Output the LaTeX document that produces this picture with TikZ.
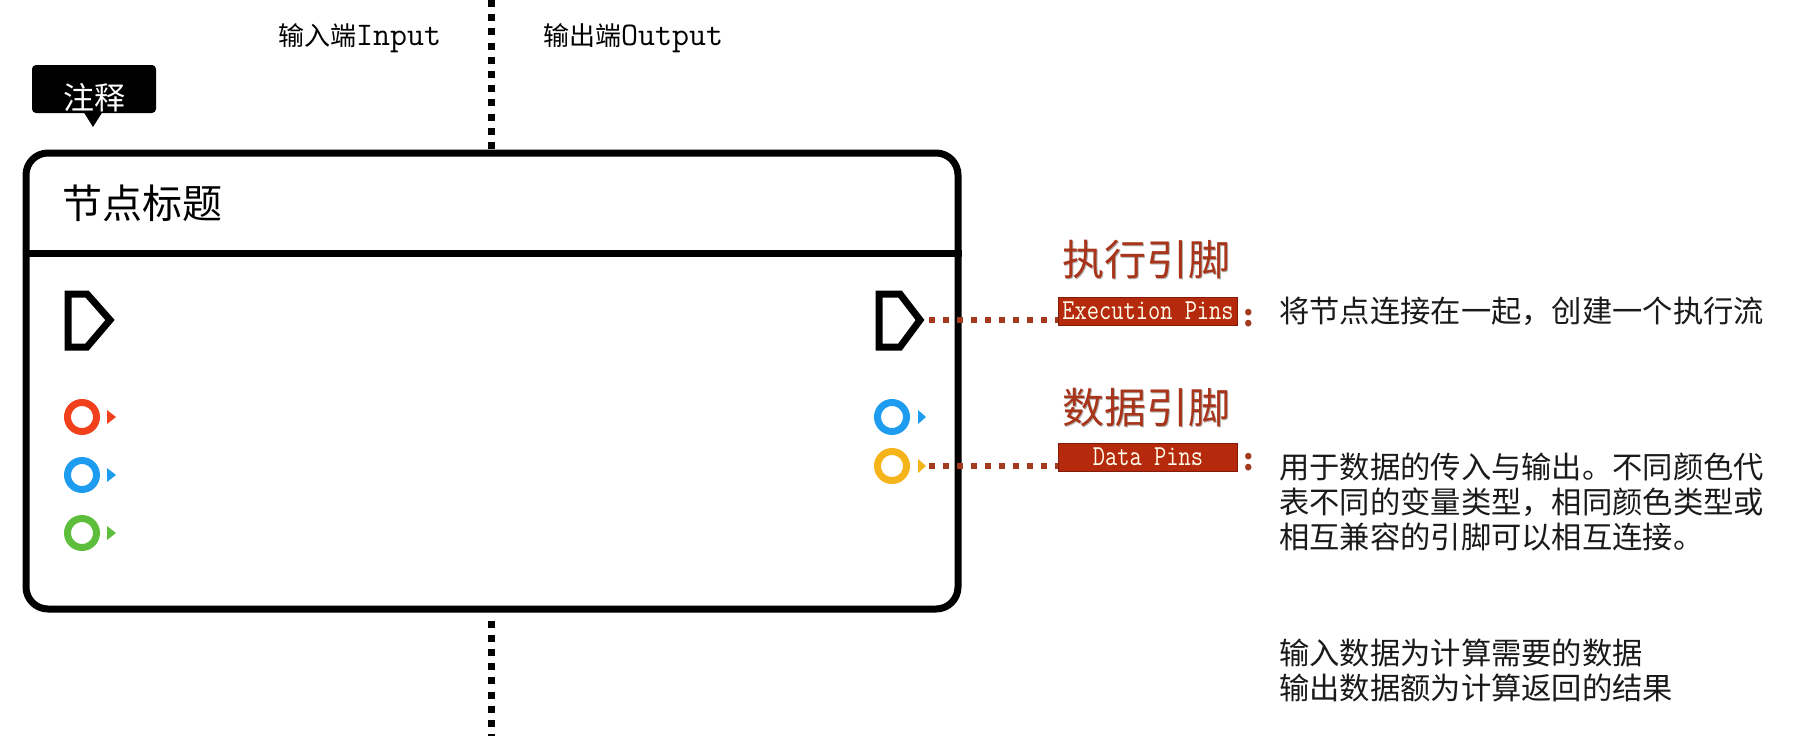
\documentclass[tikz,border=0pt]{standalone}
\usepackage{fontspec}
\newfontfamily\cjk{Noto Sans CJK SC}
\usetikzlibrary{positioning}
\definecolor{pinred}{HTML}{F0401C}
\definecolor{pinblue}{HTML}{1E9CF0}
\definecolor{pingreen}{HTML}{5DBE3C}
\definecolor{pinyellow}{HTML}{F5B51A}
\definecolor{headred}{HTML}{A8341A}
\definecolor{labfill}{HTML}{B52A0C}
\definecolor{dotred}{HTML}{A33A1E}
\definecolor{bodytext}{HTML}{1A1A1A}
\newcommand{\fs}[1]{\fontsize{#1}{#1}\selectfont}
\tikzset{
  txt/.style={inner sep=0pt, anchor=base west, text=bodytext},
  body/.style={txt, font=\cjk\fs{30.3}},
  heading/.style={txt, font=\cjk\fs{42}, text=headred},
  headshadow/.style={txt, font=\cjk\fs{42}, text=black!30},
  pinlabel/.style={fill=labfill, draw=labfill!70!black, line width=0.8pt, minimum width=179pt, minimum height=28pt, inner sep=0pt, text=white!92!yellow, font=\ttfamily\fs{29}},
  colonmark/.style={inner sep=0pt, anchor=base, text=dotred, font=\cjk\bfseries\fs{30}},
  dotconn/.style={draw=dotred, line width=6pt, dash pattern=on 6pt off 8pt},
  vdotted/.style={draw=black, line width=7pt, dash pattern=on 7pt off 7.2pt},
  execpin/.style={draw=black, line width=7pt, miter limit=10},
  ring/.style={line width=7pt},
}
\begin{document}
\begin{tikzpicture}[x=1pt,y=-1pt]
\useasboundingbox (0,0) rectangle (1807,736);
\fill[white] (0,0) rectangle (1807,736);

% main node box
\node[draw=black, line width=7pt, rounded corners=22pt, minimum width=932pt, minimum height=456pt, inner sep=0pt] (box) at (492,381) {};
\draw[line width=7pt] (box.west |- 0,253) -- (box.east |- 0,253);

% vertical dotted divider
\coordinate (dtop) at (491,0);
\coordinate (dbot) at (491,736);
\draw[vdotted] (dtop) -- (dtop |- box.north);
\draw[vdotted] ([yshift=-8pt]dtop |- box.south) -- (dbot);

% input/output labels
\node[txt, font=\cjk\fs{26}, text=black] (inlabel) at (278,45) {输入端{\ttfamily\fs{33}Input}};
\node[txt, font=\cjk\fs{26}, text=black] (outlabel) at (543,45) {输出端{\ttfamily\fs{33}Output}};

% comment bubble
\fill[black, rounded corners=4pt] (32,65) rectangle (156,113);
\fill[black] (83,111) -- (103,111) -- (93,127) -- cycle;
\node[inner sep=0pt, anchor=base, text=white, font=\cjk\fs{31}] (comment) at (94,109) {注释};

% title
\node[txt, font=\cjk\fs{40}, text=black] (title) at (62,218) {节点标题};

% left exec pin
\draw[execpin] (68,294) -- (87,294) -- (110,320) -- (87,347) -- (68,347) -- cycle;
% right exec pin
\draw[execpin] (879,294) -- (900,294) -- (920,320) -- (900,347) -- (879,347) -- cycle;
\coordinate (exectip) at (929,320);

% left data pins
\draw[ring, pinred] (82,417) circle (14.5);
\fill[pinred] (107,410) -- (116,417) -- (107,424) -- cycle;
\draw[ring, pinblue] (82,475) circle (14.5);
\fill[pinblue] (107,468) -- (116,475) -- (107,482) -- cycle;
\draw[ring, pingreen] (82,533) circle (14.5);
\fill[pingreen] (107,526) -- (116,533) -- (107,540) -- cycle;

% right data pins
\draw[ring, pinblue] (892,417) circle (14.5);
\fill[pinblue] (918,410) -- (926,417) -- (918,424) -- cycle;
\draw[ring, pinyellow] (892,466) circle (14.5);
\fill[pinyellow] (918,459) -- (926,466) -- (918,473) -- cycle;
\coordinate (datatip) at (929,466);

% headings
\node[headshadow] (h1s) at (1063,276) {执行引脚};
\node[heading] (h1) at (1062,275) {执行引脚};
\node[headshadow] (h2s) at (1063,424) {数据引脚};
\node[heading] (h2) at (1062,423) {数据引脚};

% pin labels
\node[pinlabel] (execbox) at (1148,311) {\scalebox{0.82}[1]{Execution Pins}};
\node[pinlabel] (databox) at (1148,457) {\scalebox{0.82}[1]{Data Pins}};
\node[colonmark] (c1) at (1249,326) {:};
\node[colonmark] (c2) at (1249,470) {:};

% connectors
\draw[dotconn] (exectip) -- (execbox.west |- exectip);
\draw[dotconn] (datatip) -- (databox.west |- datatip);

% descriptions
\node[body] (d1) at (1279,322) {将节点连接在一起，创建一个执行流};
\node[body] (d2a) at (1279,478) {用于数据的传入与输出。不同颜色代};
\node[body] (d2b) at (1279,513) {表不同的变量类型，相同颜色类型或};
\node[body] (d2c) at (1279,548) {相互兼容的引脚可以相互连接。};
\node[body] (d3a) at (1279,664) {输入数据为计算需要的数据};
\node[body] (d3b) at (1279,699) {输出数据额为计算返回的结果};
\end{tikzpicture}
\end{document}
